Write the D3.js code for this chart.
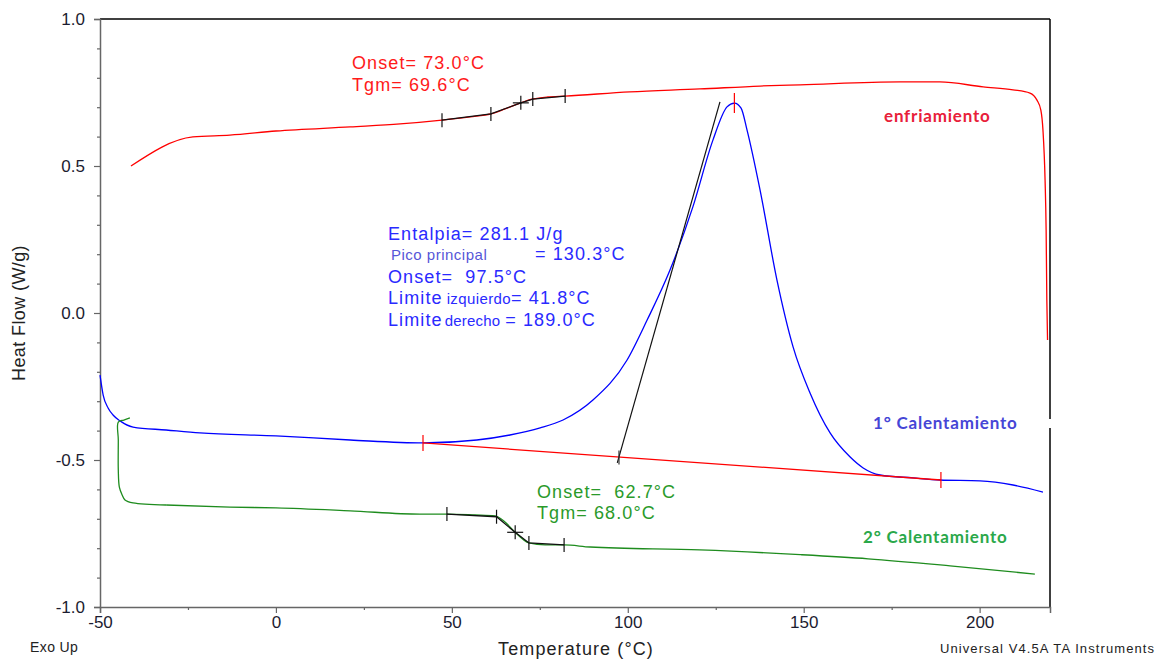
<!DOCTYPE html>
<html>
<head>
<meta charset="utf-8">
<script src="https://cdn.jsdelivr.net/npm/d3@7"></script>
<style>
  html, body { margin: 0; padding: 0; background: #fff; }
  svg { display: block; }
  svg text { white-space: pre; }
</style>
</head>
<body>
<svg id="chart" width="1161" height="659"></svg>
<script>
// ---- DSC traces: temperature (°C) and heat flow (W/g) ----
// Cooling run (enfriamiento)
const coolT  = [-41.2, -23.6, -13.1, 0.0, 21.1, 35.3, 47.2, 55.2, 61.1, 65.1, 69.4, 73.1, 77.3, 82.2,
                100.6, 120.5, 137.6, 149.0, 177.4, 188.7, 201.0, 209.5, 214.3, 216.3, 217.4, 218.0,
                218.6, 218.9, 219.1, 219.3];
const coolHF = [0.500, 0.599, 0.605, 0.619, 0.633, 0.643, 0.656, 0.667, 0.677, 0.694, 0.714, 0.728, 0.735, 0.738,
                0.752, 0.762, 0.772, 0.776, 0.786, 0.786, 0.769, 0.759, 0.748, 0.724, 0.690, 0.622,
                0.452, 0.282, 0.044, -0.092];

// First heating (1° Calentamiento)
const heat1T  = [-50.0, -49.1, -47.7, -46.3, -44.3, -40.6, -31.2, -21.6, 0.0, 21.1, 41.8, 57.1, 66.5, 75.1,
                 81.6, 90.1, 99.8, 105.5, 112.0, 118.5, 124.2, 128.2, 130.3, 132.2, 133.9, 137.6, 142.4,
                 147.0, 151.8, 157.5, 163.2, 166.9, 171.7, 181.1, 188.7, 200.1, 209.5, 218.0];
const heat1HF = [-0.211, -0.279, -0.323, -0.347, -0.367, -0.388, -0.398, -0.408, -0.418, -0.432, -0.442, -0.432,
                 -0.415, -0.391, -0.364, -0.296, -0.160, -0.024, 0.146, 0.361, 0.588, 0.701, 0.714, 0.697,
                 0.622, 0.418, 0.112, -0.116, -0.272, -0.408, -0.490, -0.527, -0.551, -0.561, -0.568,
                 -0.571, -0.585, -0.609];

// Second heating (2° Calentamiento)
const heat2T  = [-41.5, -43.2, -44.8, -44.8, -44.8, -44.5, -43.7, -42.9, -40.6, -31.2, -13.1, 0.0, 21.1,
                 40.9, 48.6, 56.6, 62.3, 65.1, 67.9, 71.9, 76.5, 81.9, 89.3, 120.5, 149.0, 168.3, 191.6, 215.7];
const heat2HF = [-0.357, -0.364, -0.371, -0.432, -0.534, -0.592, -0.619, -0.636, -0.646, -0.653, -0.660,
                 -0.663, -0.673, -0.684, -0.684, -0.687, -0.690, -0.711, -0.745, -0.782, -0.789, -0.789,
                 -0.796, -0.806, -0.822, -0.836, -0.860, -0.888];

// ---- Analysis results ----
const coolGlass  = { start: 47.2, onset: 73.0, tgm: 69.6, mid: 61.1, end: 82.2 };
const heat2Glass = { start: 48.6, onset: 62.7, tgm: 68.0, mid: 71.9, end: 81.9 };
const peak       = { enthalpy: 281.1, peakT: 130.3, onset: 97.5, left: 41.8, right: 189.0 };
const tangentTop = [126.2, 0.718];
const tangentLow = -0.51;

// ---- Axis ticks ----
const xTicks = [-50, 0, 50, 100, 150, 200];
const xMinor = [-25, 25, 75, 125, 175];
const yTicks = [-1.0, -0.5, 0.0, 0.5, 1.0];
const yMinor = [-0.9, -0.8, -0.7, -0.6, -0.4, -0.3, -0.2, -0.1, 0.1, 0.2, 0.3, 0.4, 0.6, 0.7, 0.8, 0.9];

const COLORS = { cool: "#ff0000", heat1: "#0000ff", heat2: "#1e8c1e", text: "#222" };
const SANS = "'Liberation Sans', Arial, sans-serif";
const BOLD = "Lato, 'Open Sans', sans-serif";

const svg = d3.select("#chart");
const plot = { left: 100, right: 1050, top: 19, bottom: 607 };

const x = d3.scaleLinear().domain([-50, 220]).range([plot.left, plot.right]);
const y = d3.scaleLinear().domain([-1, 1]).range([plot.bottom, plot.top]);

const zip = (a, b) => a.map((t, i) => [t, b[i]]);
const cool = zip(coolT, coolHF);
const heat1 = zip(heat1T, heat1HF);
const heat2 = zip(heat2T, heat2HF);

// linear interpolation along a trace (first segment that brackets t)
function at(trace, t) {
  for (let i = 1; i < trace.length; i++) {
    const [t0, v0] = trace[i - 1], [t1, v1] = trace[i];
    if (t1 !== t0 && t >= Math.min(t0, t1) && t <= Math.max(t0, t1)) {
      return v0 + (v1 - v0) * (t - t0) / (t1 - t0);
    }
  }
  return trace[trace.length - 1][1];
}

// ---- Frame ----
svg.append("line").attr("x1", plot.left).attr("x2", plot.right).attr("y1", plot.top).attr("y2", plot.top)
  .attr("stroke", "#000").attr("stroke-width", 1.5);
svg.append("line").attr("x1", plot.right).attr("x2", plot.right).attr("y1", plot.top).attr("y2", plot.bottom)
  .attr("stroke", "#000").attr("stroke-width", 1.5);

// ---- Axes ----
svg.append("g").attr("transform", `translate(${plot.left},0)`)
  .call(d3.axisLeft(y).tickValues(yTicks).tickSize(6).tickPadding(9).tickFormat(d => d.toFixed(1)));
svg.append("g").attr("transform", `translate(${plot.left},0)`)
  .call(d3.axisLeft(y).tickValues(yMinor).tickSize(3).tickFormat(""))
  .call(g => g.select(".domain").remove());

svg.append("g").attr("transform", `translate(0,${plot.bottom})`)
  .call(d3.axisBottom(x).tickValues(xTicks).tickSize(6).tickPadding(3).tickFormat(d => String(d)));
svg.append("g").attr("transform", `translate(0,${plot.bottom})`)
  .call(d3.axisBottom(x).tickValues(xMinor).tickSize(3).tickFormat(""))
  .call(g => g.select(".domain").remove());

svg.selectAll(".domain").attr("stroke", "#666").attr("stroke-width", 1.5);
svg.selectAll(".tick line").attr("stroke", "#666").attr("stroke-width", 1.2);
svg.selectAll(".tick text").attr("font-family", SANS).attr("font-size", 17).attr("fill", "#1c1c30");

// axis titles and footer
svg.append("text").attr("x", 576).attr("y", 655).attr("text-anchor", "middle")
  .attr("font-family", SANS).attr("font-size", 18).attr("letter-spacing", 1.1)
  .attr("fill", COLORS.text).text("Temperature (°C)");
svg.append("text").attr("transform", "translate(25,313) rotate(-90)").attr("text-anchor", "middle")
  .attr("font-family", SANS).attr("font-size", 18).attr("letter-spacing", 0.4)
  .attr("fill", COLORS.text).text("Heat Flow (W/g)");
svg.append("text").attr("x", 30).attr("y", 652)
  .attr("font-family", SANS).attr("font-size", 14).attr("letter-spacing", 0.4)
  .attr("fill", COLORS.text).text("Exo Up");
svg.append("text").attr("x", 940).attr("y", 653).attr("textLength", 214).attr("lengthAdjust", "spacing")
  .attr("font-family", SANS).attr("font-size", 13).attr("fill", COLORS.text).text("Universal V4.5A TA Instruments");

// ---- Traces ----
const smooth = d3.line().x(d => x(d[0])).y(d => y(d[1])).curve(d3.curveMonotoneX);
const hooked = d3.line().x(d => x(d[0])).y(d => y(d[1])).curve(d3.curveCatmullRom.alpha(0.5));
const straight = d3.line().x(d => x(d[0])).y(d => y(d[1]));

svg.append("path").datum(cool).attr("d", smooth).attr("fill", "none").attr("stroke", COLORS.cool).attr("stroke-width", 1.3);
svg.append("path").datum(heat1).attr("d", smooth).attr("fill", "none").attr("stroke", COLORS.heat1).attr("stroke-width", 1.3);
// the second heating starts with a short hook, so its start is drawn with a spline and the rest monotone
svg.append("path").datum(heat2.slice(0, 10)).attr("d", hooked).attr("fill", "none").attr("stroke", COLORS.heat2).attr("stroke-width", 1.3);
svg.append("path").datum(heat2.slice(9)).attr("d", smooth).attr("fill", "none").attr("stroke", COLORS.heat2).attr("stroke-width", 1.3);

// vertical analysis marker
function marker(t, v, color, half = 7, cross = 0) {
  svg.append("line").attr("x1", x(t)).attr("x2", x(t)).attr("y1", y(v) - half).attr("y2", y(v) + half)
    .attr("stroke", color).attr("stroke-width", 1.2);
  if (cross) {
    svg.append("line").attr("x1", x(t) - cross).attr("x2", x(t) + cross).attr("y1", y(v)).attr("y2", y(v))
      .attr("stroke", color).attr("stroke-width", 1.2);
  }
}

// glass transition construction (cooling and second heating)
function glass(trace, g) {
  const temps = [g.start, Math.min(g.onset, g.mid), g.tgm, Math.max(g.onset, g.mid), g.end];
  const pts = temps.map(t => [t, at(trace, t)]);
  svg.append("path").datum(pts).attr("d", straight).attr("fill", "none").attr("stroke", "#111").attr("stroke-width", 1.3);
  pts.forEach(([t, v]) => marker(t, v, "#111", 7, t === g.tgm ? 8 : 0));
}
glass(cool, coolGlass);
glass(heat2, heat2Glass);

// melting peak integration: baseline, onset tangent, peak marker
const baseL = [peak.left, at(heat1, peak.left)];
const baseR = [peak.right, at(heat1, peak.right)];
const baseAt = t => baseL[1] + (baseR[1] - baseL[1]) * (t - baseL[0]) / (baseR[0] - baseL[0]);
svg.append("path").datum([baseL, baseR]).attr("d", straight).attr("fill", "none")
  .attr("stroke", COLORS.cool).attr("stroke-width", 1.3);

const onsetPt = [peak.onset, baseAt(peak.onset)];
const slope = (tangentTop[1] - onsetPt[1]) / (tangentTop[0] - onsetPt[0]);
const lowPt = [onsetPt[0] + (tangentLow - onsetPt[1]) / slope, tangentLow];
svg.append("path").datum([lowPt, tangentTop]).attr("d", straight).attr("fill", "none")
  .attr("stroke", "#111").attr("stroke-width", 1.2);
marker(onsetPt[0], onsetPt[1] - 0.002, "#333", 7);

marker(baseL[0], baseL[1], COLORS.cool, 8);
marker(baseR[0], baseR[1], COLORS.cool, 8);
marker(peak.peakT, at(heat1, peak.peakT), COLORS.cool, 10);

// ---- Annotations ----
function label(xp, yp, color, parts, size = 18, spacing = 1.1) {
  const t = svg.append("text").attr("x", xp).attr("y", yp).attr("font-family", SANS)
    .attr("fill", color).attr("font-size", size).attr("letter-spacing", spacing);
  parts.forEach(p => {
    const s = t.append("tspan").text(p.text);
    if (p.size) s.attr("font-size", p.size);
    if (p.ls !== undefined) s.attr("letter-spacing", p.ls);
    if (p.fill) s.attr("fill", p.fill);
    if (p.x !== undefined) s.attr("x", p.x);
    if (p.dx !== undefined) s.attr("dx", p.dx);
  });
  return t;
}

label(352, 69, "#ff1a1a", [{ text: `Onset= ${coolGlass.onset.toFixed(1)}°C` }]);
label(352, 91, "#ff1a1a", [{ text: `Tgm= ${coolGlass.tgm.toFixed(1)}°C` }]);

label(537, 498, "#2a9a2a", [{ text: `Onset=  ${heat2Glass.onset.toFixed(1)}°C` }]);
label(537, 519, "#2a9a2a", [{ text: `Tgm= ${heat2Glass.tgm.toFixed(1)}°C` }]);

const blue = "#2a2aff";
label(388, 240, blue, [{ text: `Entalpia= ${peak.enthalpy.toFixed(1)} J/g` }]);
label(391, 260, blue, [{ text: "Pico principal", size: 15, ls: 0.5, fill: "#5656d8" },
                       { text: `= ${peak.peakT.toFixed(1)}°C`, x: 535 }]);
label(388, 283, blue, [{ text: `Onset=  ${peak.onset.toFixed(1)}°C` }]);
label(388, 304, blue, [{ text: "Limite" }, { text: "izquierdo", size: 15, ls: 0.4, dx: 4 },
                       { text: `= ${peak.left.toFixed(1)}°C` }]);
label(388, 326, blue, [{ text: "Limite" }, { text: "derecho", size: 15, ls: 0.2, dx: 2 },
                       { text: `= ${peak.right.toFixed(1)}°C`, dx: 5 }]);

// series names
svg.append("rect").attr("x", 866).attr("y", 419).attr("width", 190).attr("height", 9).attr("fill", "#fff");
svg.append("text").attr("x", 884).attr("y", 122).attr("font-family", BOLD).attr("font-weight", "bold")
  .attr("font-size", 17).attr("letter-spacing", 0.8).attr("fill", "#e8203a").text("enfriamiento");
svg.append("text").attr("x", 873).attr("y", 429).attr("font-family", BOLD).attr("font-weight", "bold")
  .attr("font-size", 17).attr("letter-spacing", 0.8).attr("fill", "#4646d6").text("1° Calentamiento");
svg.append("text").attr("x", 863).attr("y", 543).attr("font-family", BOLD).attr("font-weight", "bold")
  .attr("font-size", 17).attr("letter-spacing", 0.8).attr("fill", "#2aa84a").text("2° Calentamiento");
</script>
</body>
</html>
